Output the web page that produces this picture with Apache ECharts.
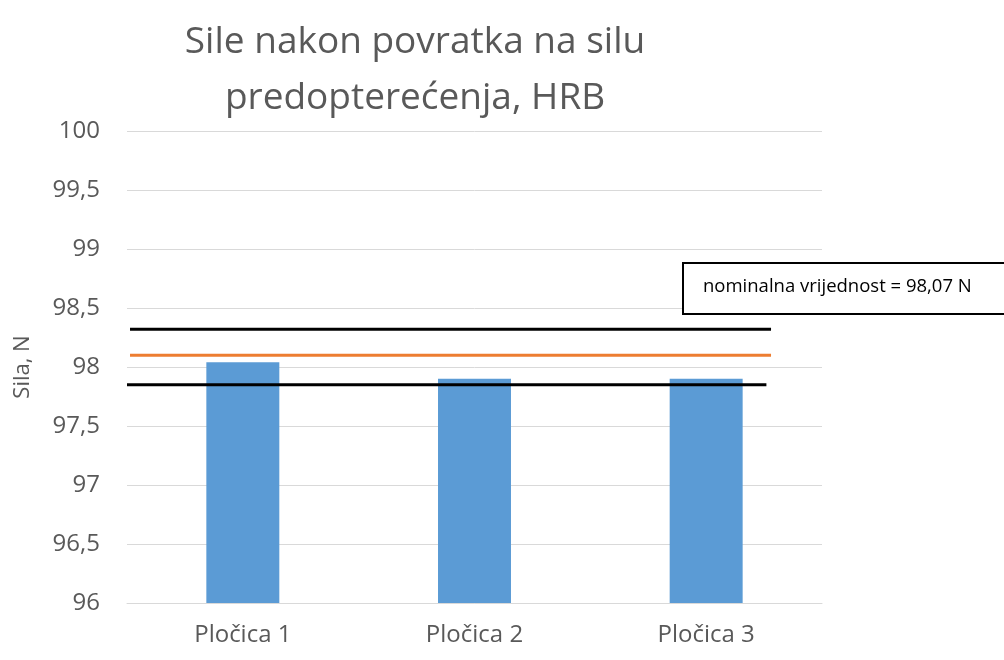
<!DOCTYPE html>
<html>
<head>
<meta charset="utf-8">
<script src="https://cdn.jsdelivr.net/npm/echarts@6/dist/echarts.min.js"></script>
<style>
  html, body { margin: 0; padding: 0; background: #fff; }
  #chart { width: 1004px; height: 660px; }
</style>
</head>
<body>
<div id="chart"></div>
<script>
(function() {
  // podaci
  var categories = ["Pločica 1", "Pločica 2", "Pločica 3"];
  var sile = [98.04, 97.9, 97.9];
  // granice i nominalna vrijednost (crte preko grafa)
  var gornjaGranica = 98.32;
  var nominalna = 98.1;
  var donjaGranica = 97.85;
  var yTicks = [96, 96.5, 97, 97.5, 98, 98.5, 99, 99.5, 100];

  var myChart = echarts.init(document.getElementById("chart"));
  var font = "'Open Sans', 'Noto Sans', sans-serif";

  function crta(y, x0, x1, color) {
    return {
      type: "line",
      xAxisIndex: 1,
      data: [[x0, y], [x1, y]],
      symbol: "none",
      lineStyle: { color: color, width: 3 },
      silent: true,
      z: 5
    };
  }

  var option = {
    animation: false,
    title: {
      text: "Sile nakon povratka na silu\npredopterećenja, HRB",
      left: 410,
      top: 9,
      textAlign: "center",
      textStyle: {
        fontFamily: font,
        fontSize: 37,
        fontWeight: "normal",
        color: "#595959",
        lineHeight: 56
      }
    },
    grid: { left: 127, right: 182, top: 131, bottom: 57 },
    xAxis: [
      {
        type: "category",
        data: categories,
        axisLine: { lineStyle: { color: "#d9d9d9" } },
        axisTick: { show: false },
        axisLabel: { fontFamily: font, fontSize: 24, color: "#595959", margin: 20 }
      },
      {
        type: "value",
        min: 0,
        max: 3,
        show: false
      }
    ],
    yAxis: {
      type: "value",
      min: yTicks[0],
      max: yTicks[yTicks.length - 1],
      interval: 0.5,
      name: "Sila, N",
      nameLocation: "middle",
      nameGap: 93,
      nameTextStyle: { fontFamily: font, fontSize: 22, color: "#595959" },
      axisLine: { show: false },
      axisTick: { show: false },
      splitLine: { lineStyle: { color: "#d9d9d9", width: 1 } },
      axisLabel: {
        fontFamily: font,
        fontSize: 24,
        color: "#595959",
        margin: 27,
        formatter: function(v) { return String(v).replace(".", ","); }
      }
    },
    series: [
      {
        type: "bar",
        data: sile,
        barWidth: "31.5%",
        itemStyle: { color: "#5b9bd5" },
        z: 2
      },
      crta(gornjaGranica, 0.013, 2.78, "#000"),
      crta(nominalna, 0.013, 2.78, "#ed7d31"),
      crta(donjaGranica, 0, 2.76, "#000")
    ],
    graphic: [
      {
        type: "rect",
        shape: { x: 683, y: 263, width: 330, height: 51 },
        style: { fill: "#fff", stroke: "#000", lineWidth: 2 },
        z: 10
      },
      {
        type: "text",
        left: 703,
        top: 277,
        style: {
          text: "nominalna vrijednost = 98,07 N",
          fontFamily: font,
          fontSize: 18.5,
          fill: "#000"
        },
        z: 11
      }
    ]
  };
  myChart.setOption(option);
  window.addEventListener("resize", function() {
    myChart.resize();
  });
})();
</script>
</body>
</html>
